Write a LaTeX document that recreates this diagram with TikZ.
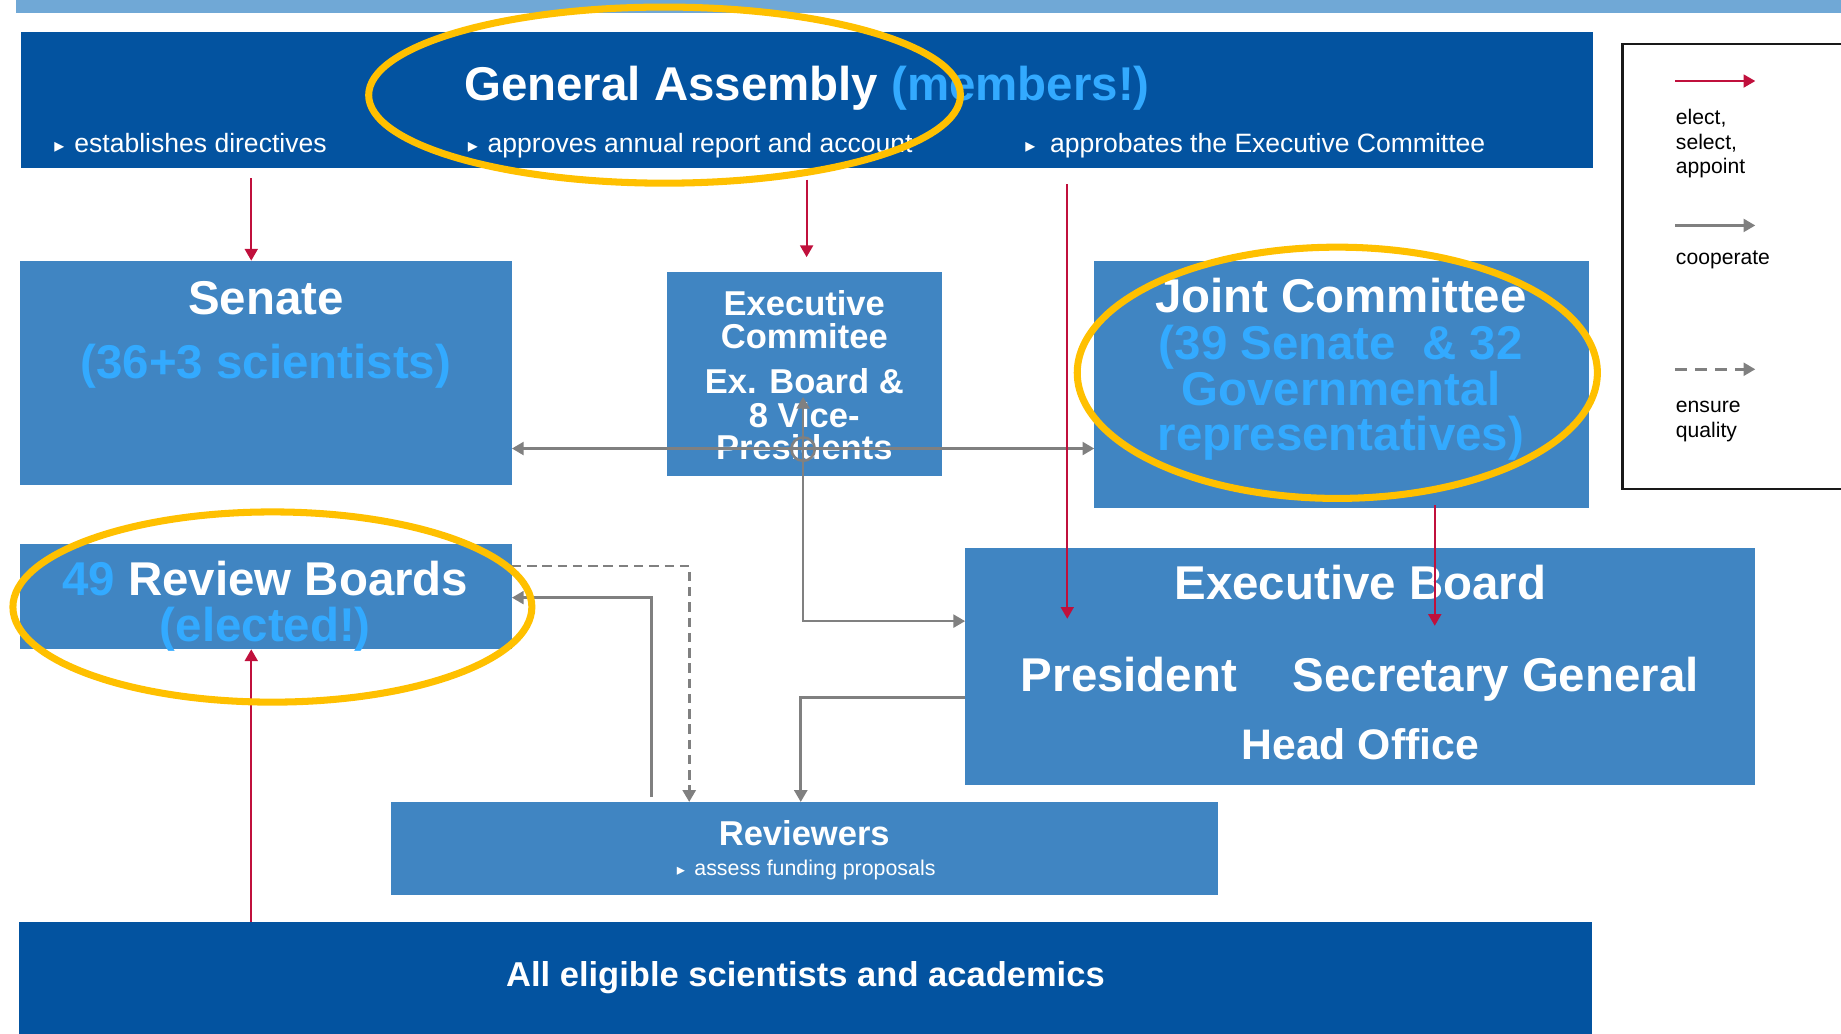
\documentclass[tikz,border=0pt]{standalone}
\usepackage{fontspec}
\setmainfont{Liberation Sans}
\newfontfamily\symf{DejaVu Sans}
\usetikzlibrary{arrows.meta}
\definecolor{dkblue}{HTML}{0353A0}
\definecolor{mdblue}{HTML}{4085C2}
\definecolor{ltblue}{HTML}{33AAFF}
\definecolor{topbar}{HTML}{70A8D6}
\definecolor{hilite}{HTML}{FFC000}
\definecolor{elred}{HTML}{C0103C}
\definecolor{coop}{HTML}{808080}
\newcommand{\bultri}[2]{\makebox[#1][l]{\symf\fontsize{#2}{#2}\selectfont ▸}}
\begin{document}
\begin{tikzpicture}[x=0.5pt,y=-0.5pt,
  >={Triangle[length=5pt,width=5.5pt]},
  dkbox/.style={fill=dkblue, draw=none, inner sep=0, outer sep=0},
  mdbox/.style={fill=mdblue, draw=none, inner sep=0, outer sep=0},
  big/.style={font=\bfseries\fontsize{20.2}{24}\selectfont, text=white, inner sep=0, anchor=base},
  mid/.style={font=\bfseries\fontsize{14.7}{17}\selectfont, text=white, inner sep=0, anchor=base},
  bul/.style={font=\fontsize{11.3}{13}\selectfont, text=white, inner sep=0, anchor=base west},
  leg/.style={font=\fontsize{9}{11}\selectfont, text=black, inner sep=0, anchor=base west},
  redarr/.style={draw=elred, line width=0.9pt, ->},
  grayline/.style={draw=coop, line width=1.1pt},
  hl/.style={draw=hilite, line width=3pt},
]
\path[use as bounding box] (0,0) rectangle (1568,880);
\clip (0,0) rectangle (1568,880);

% helper coordinates
\coordinate (cx214) at (214,0);
\coordinate (cx687) at (687,0);
\coordinate (cx909) at (909,0);
\coordinate (cx1222) at (1222,0);
\coordinate (cx684) at (684,0);
\coordinate (cx587) at (587,0);
\coordinate (cx555) at (555,0);
\coordinate (cx682) at (682,0);
\coordinate (cy382) at (0,382);
\coordinate (cy529) at (0,529);
\coordinate (cy482) at (0,482);
\coordinate (cy509) at (0,509);
\coordinate (cy594) at (0,594);
\coordinate (presIn) at (909,527);
\coordinate (secIn) at (1222,533);
\coordinate (ecIn) at (684,338);

% top bar
\fill[topbar] (14,0) rectangle (1568,11);

% boxes
\node[dkbox, minimum width=669.5pt, minimum height=58pt] (ga) at (687.5,85) {};
\node[mdbox, minimum width=209.5pt, minimum height=95.5pt] (senate) at (226.5,317.5) {};
\node[mdbox, minimum width=117pt, minimum height=86.5pt] (excom) at (685,318.5) {};
\node[mdbox, minimum width=210.5pt, minimum height=105.5pt] (jc) at (1142.5,327.5) {};
\node[mdbox, minimum width=209.5pt, minimum height=45pt] (rb) at (226.5,508) {};
\node[mdbox, minimum width=336.5pt, minimum height=101pt] (eb) at (1158.5,568) {};
\node[mdbox, minimum width=352pt, minimum height=39.5pt] (rev) at (685,722.5) {};
\node[dkbox, minimum width=670pt, minimum height=50pt] (all) at (686,835) {};

% texts
\node[big, anchor=base west] (gat) at (395,86) {General Assembly \textcolor{ltblue}{(members!)}};
\node[bul] (b1) at (46,130) {\bultri{8.5pt}{8.5}establishes directives};
\node[bul] (b2) at (398,130) {\bultri{8.5pt}{8.5}approves annual report and account};
\node[bul] (b3) at (873,130) {\bultri{10.5pt}{8.5}approbates the Executive Committee};

\node[big] (sen1) at (226.5,268) {Senate};
\node[big, text=ltblue] (sen2) at (226.5,322) {(36+3 scientists)};

\node[mid] (ec1) at (685,268.5) {Executive};
\node[mid] (ec2) at (685,296.5) {Commitee};
\node[mid] (ec3) at (685,335.5) {Ex. Board \&};
\node[mid] (ec4) at (685,364.5) {8 Vice-};
\node[mid] (ec5) at (685,391.5) {Presidents};

\node[big] (jc1) at (1142,266) {Joint Committee};
\node[big, text=ltblue] (jc2) at (1142,306) {(39 Senate~~\& 32};
\node[big, text=ltblue] (jc3) at (1142,345.5) {Governmental};
\node[big, text=ltblue] (jc4) at (1142,384) {representatives)};

\node[big] (rb1) at (226,507) {\textcolor{ltblue}{49} Review Boards};
\node[big, text=ltblue] (rb2) at (226,546) {(elected!)};

\node[big] (eb1) at (1158.7,510.5) {Executive Board};
\node[big] (eb2) at (961.6,589) {President};
\node[big] (eb3) at (1273.9,589) {Secretary General};
\node[big, font=\bfseries\fontsize{18.2}{22}\selectfont] (eb4) at (1158.5,647) {Head Office};

\node[mid] (rev1) at (685,719.7) {Reviewers};
\node[font=\fontsize{9.1}{11}\selectfont, text=white, inner sep=0, anchor=base west] (rev2) at (576,745.3) {\bultri{7.5pt}{7}assess funding proposals};

\node[mid] (all1) at (686,840.4) {All eligible scientists and academics};

% legend
\draw[black!90, line width=1pt] (1382,37.5) rectangle (1600,416.5);
\coordinate (l1s) at (1427,69);
\coordinate (l1e) at (1495,69);
\coordinate (l2s) at (1427,192);
\coordinate (l2e) at (1495,192);
\coordinate (l3s) at (1427,314.5);
\coordinate (l3e) at (1495,314.5);
\draw[redarr] (l1s) -- (l1e);
\draw[grayline, ->] (l2s) -- (l2e);
\draw[grayline, dash pattern=on 5pt off 3.5pt, ->] (l3s) -- (l3e);
\node[leg] (lg1) at (1427,106) {elect,};
\node[leg] (lg2) at (1427,127) {select,};
\node[leg] (lg3) at (1427,148) {appoint};
\node[leg] (lg4) at (1427,225) {cooperate};
\node[leg] (lg5) at (1427,351.5) {ensure};
\node[leg] (lg6) at (1427,372.5) {quality};

% gray connectors
\draw[grayline, <->] (senate.east |- cy382) -- (jc.west |- cy382);
\draw[grayline, <->] (eb.west |- cy529) -- (cx684 |- cy529) -- (ecIn);
\draw[grayline] (684,382.5) circle [radius=10];
\draw[grayline, dash pattern=on 4pt off 2.5pt, ->] (rb.east |- cy482) -- (cx587 |- cy482) -- (rev.north -| cx587);
\draw[grayline, ->, shorten <=2pt] (rev.north -| cx555) -- (cx555 |- cy509) -- (rb.east |- cy509);
\draw[grayline, ->] (eb.west |- cy594) -- (cx682 |- cy594) -- (rev.north -| cx682);

% red connectors
\draw[redarr, shorten <=4.5pt] (ga.south -| cx214) -- (senate.north -| cx214);
\draw[redarr, shorten <=5pt, shorten >=6.5pt] (ga.south -| cx687) -- (excom.north -| cx687);
\draw[redarr, shorten <=7pt] (ga.south -| cx909) -- (presIn);
\draw[redarr, shorten <=-1.5pt] (jc.south -| cx1222) -- (secIn);
\draw[redarr] (all.north -| cx214) -- (rb.south -| cx214);

% highlight ellipses
\draw[hl] (566,81) ellipse [x radius=252, y radius=75];
\draw[hl] (1139,317.5) ellipse [x radius=221.5, y radius=107];
\draw[hl] (232,517) ellipse [x radius=221, y radius=81];
\end{tikzpicture}
\end{document}
